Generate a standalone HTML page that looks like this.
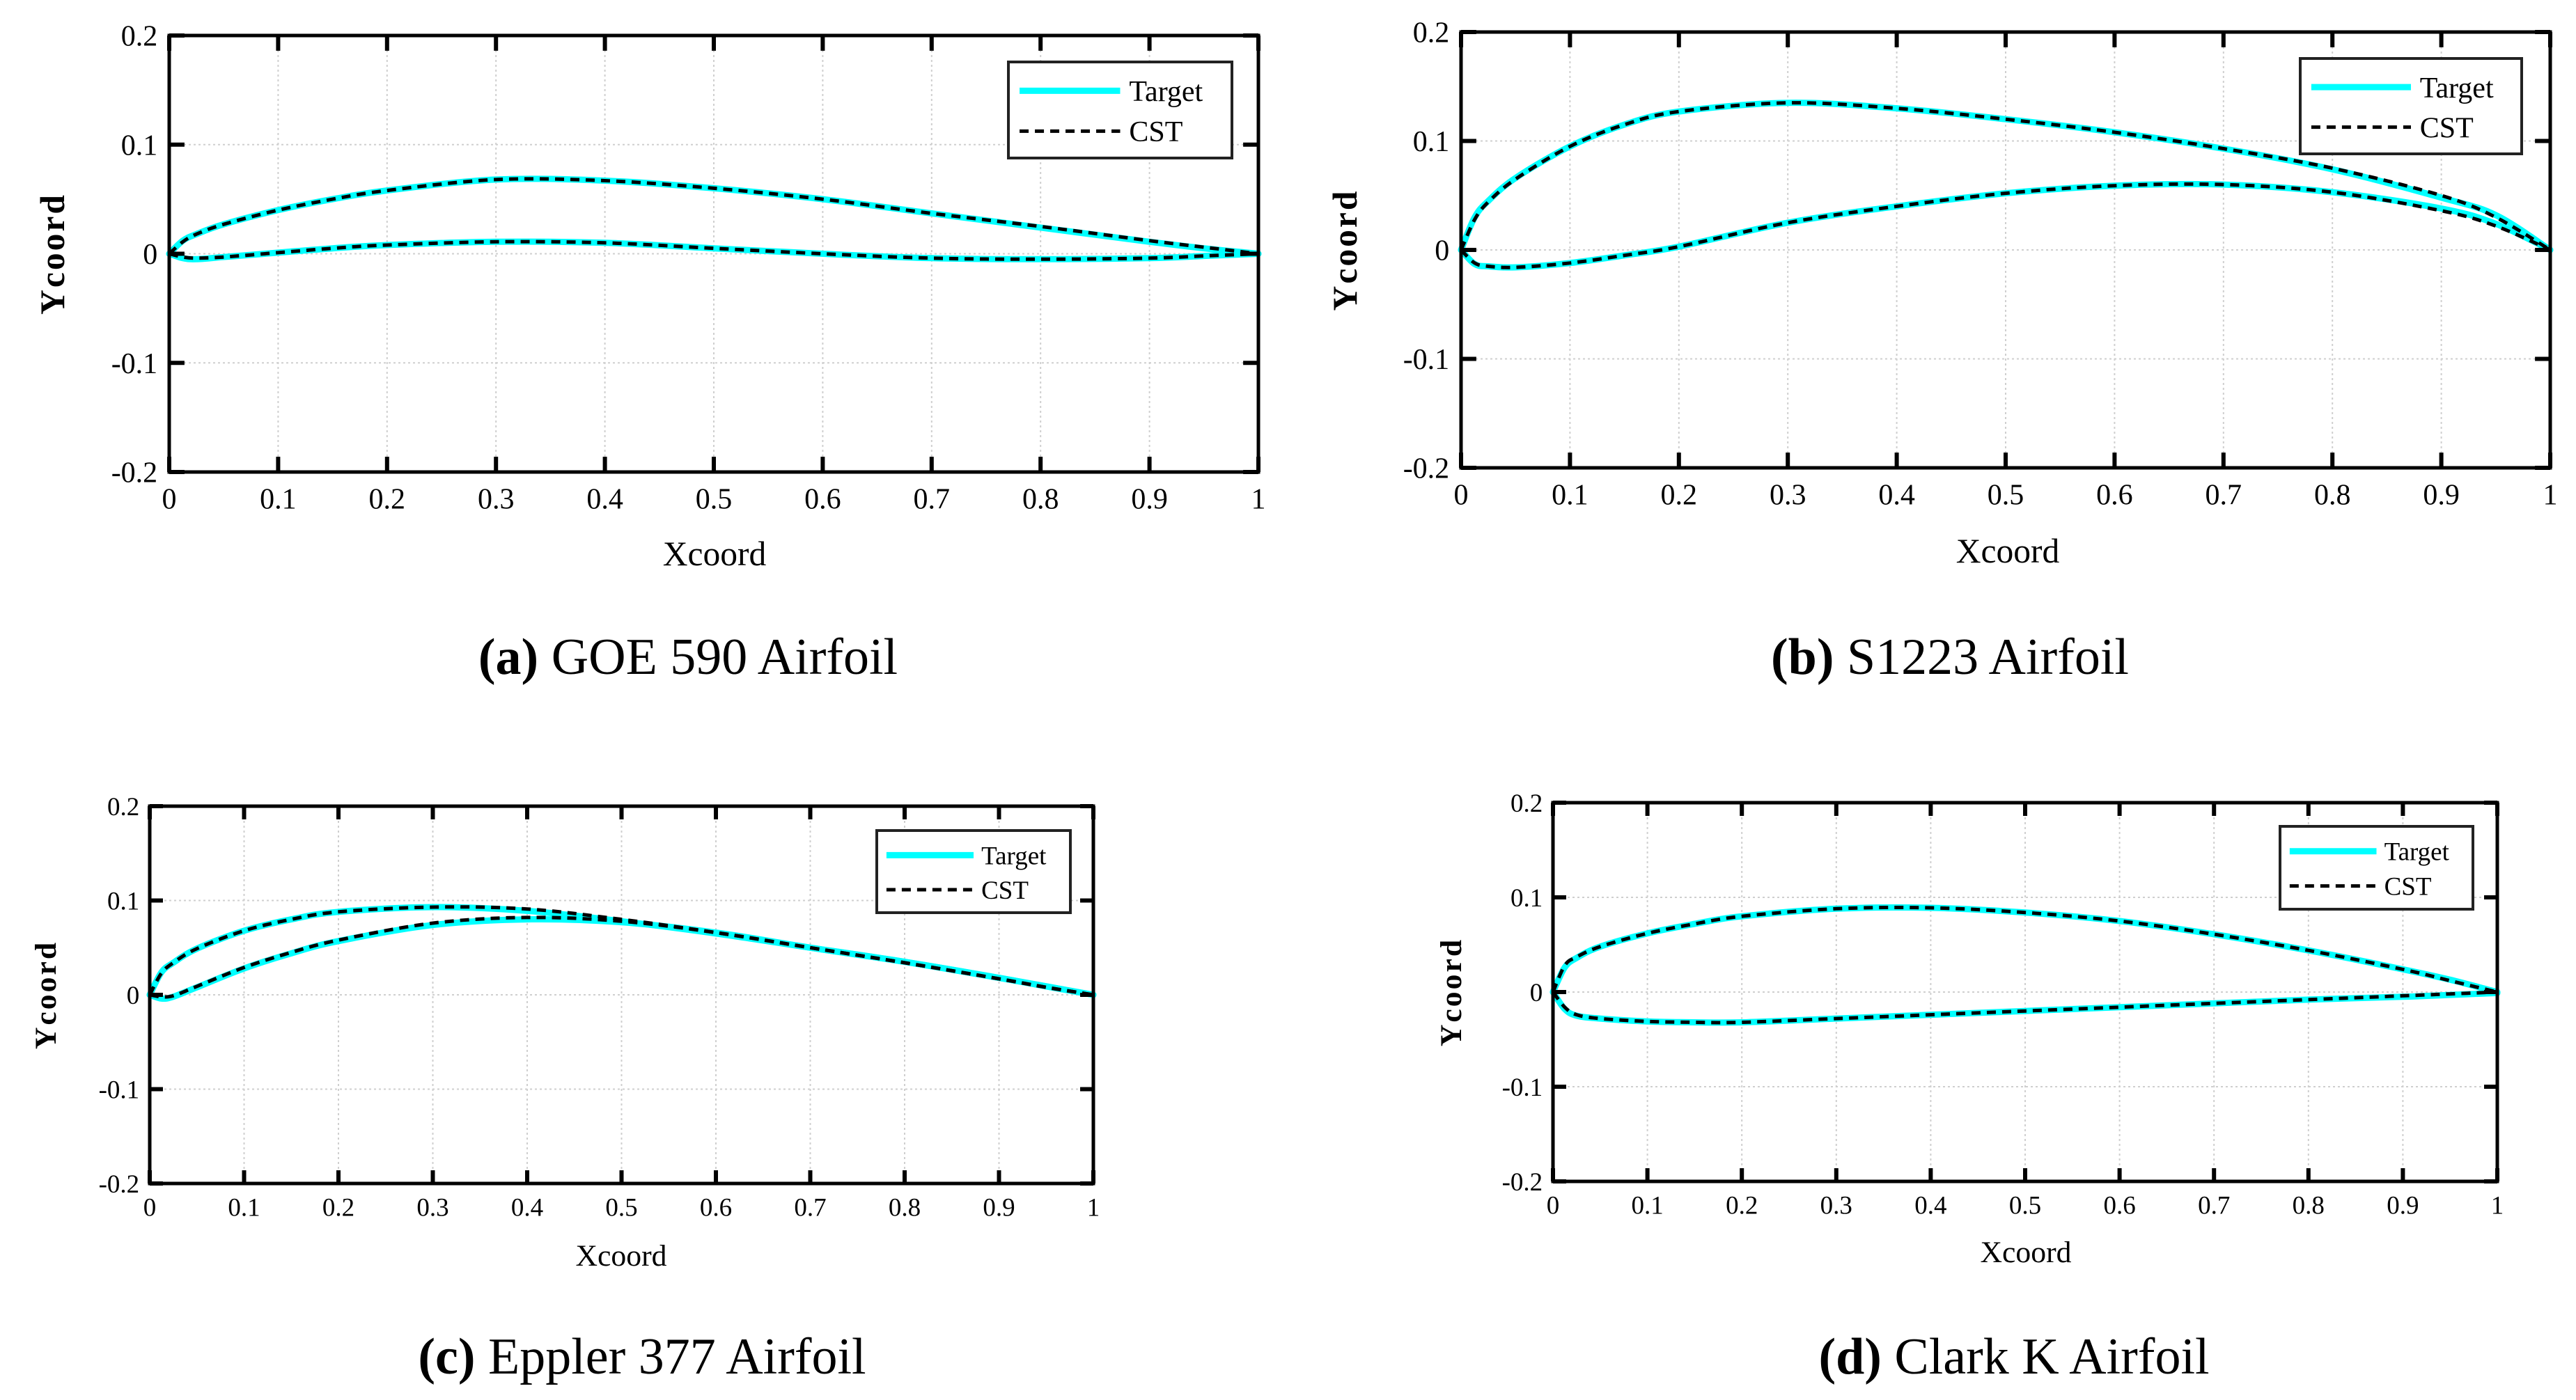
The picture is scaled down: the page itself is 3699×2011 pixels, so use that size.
<!DOCTYPE html>
<html><head><meta charset="utf-8"><style>
html,body{margin:0;padding:0;background:#fff;}
svg{display:block;}
text{font-family:"Liberation Serif",serif;fill:#000;}
</style></head><body>
<svg id="fig" width="3699" height="2011" viewBox="0 0 3699 2011" xmlns="http://www.w3.org/2000/svg"></svg>
<script>
const xs = [0,0.0125,0.025,0.05,0.1,0.15,0.2,0.3,0.4,0.5,0.6,0.7,0.8,0.9,0.95,1];
const xTicks = [0,0.1,0.2,0.3,0.4,0.5,0.6,0.7,0.8,0.9,1];
const xTickLabels = ["0","0.1","0.2","0.3","0.4","0.5","0.6","0.7","0.8","0.9","1"];
const yTicks = [-0.2,-0.1,0,0.1,0.2];
const yTickLabels = ["-0.2","-0.1","0","0.1","0.2"];

const goeUpperTarget = [0,0.012,0.018,0.027,0.040,0.050,0.058,0.068,0.067,0.060,0.050,0.037,0.024,0.011,0.005,0];
const goeLowerTarget = [0,-0.004,-0.005,-0.003,0.001,0.005,0.008,0.011,0.010,0.005,0.000,-0.004,-0.005,-0.004,-0.002,0];
const goeUpperCST = [0,0.011,0.018,0.027,0.040,0.050,0.058,0.068,0.067,0.060,0.050,0.037,0.025,0.012,0.006,0];
const goeLowerCST = [0,-0.003,-0.004,-0.003,0.001,0.005,0.008,0.011,0.010,0.005,0.000,-0.004,-0.005,-0.004,-0.002,0];

const s1223UpperTarget = [0,0.030,0.045,0.066,0.095,0.115,0.127,0.135,0.130,0.120,0.108,0.093,0.074,0.048,0.032,0];
const s1223LowerTarget = [0,-0.013,-0.015,-0.016,-0.012,-0.005,0.003,0.025,0.040,0.052,0.059,0.060,0.053,0.038,0.024,0];
const s1223UpperCST = [0,0.028,0.044,0.065,0.095,0.115,0.127,0.135,0.130,0.120,0.108,0.093,0.075,0.050,0.030,0];
const s1223LowerCST = [0,-0.012,-0.015,-0.016,-0.012,-0.005,0.003,0.025,0.040,0.052,0.059,0.060,0.053,0.036,0.022,0];

const epplerUpperTarget = [0,0.024,0.034,0.049,0.068,0.080,0.088,0.093,0.089,0.078,0.065,0.050,0.035,0.018,0.009,0];
const epplerLowerTarget = [0,-0.004,-0.002,0.008,0.028,0.044,0.057,0.074,0.080,0.077,0.066,0.050,0.035,0.018,0.009,0];
const epplerUpperCST = [0,0.023,0.034,0.049,0.068,0.080,0.088,0.093,0.091,0.080,0.066,0.050,0.034,0.017,0.008,0];
const epplerLowerCST = [0,-0.002,-0.001,0.009,0.029,0.045,0.058,0.076,0.082,0.078,0.066,0.050,0.034,0.017,0.008,0];

const clarkUpperTarget = [0,0.026,0.036,0.048,0.062,0.072,0.080,0.088,0.089,0.084,0.075,0.061,0.044,0.024,0.013,0];
const clarkLowerTarget = [0,-0.018,-0.025,-0.028,-0.031,-0.032,-0.032,-0.028,-0.024,-0.020,-0.016,-0.012,-0.008,-0.005,-0.003,-0.001];
const clarkUpperCST = [0,0.028,0.037,0.048,0.062,0.072,0.080,0.088,0.089,0.084,0.075,0.061,0.044,0.024,0.012,0];
const clarkLowerCST = [0,-0.016,-0.024,-0.028,-0.031,-0.032,-0.032,-0.028,-0.024,-0.020,-0.016,-0.012,-0.008,-0.004,-0.002,0];

const NS = "http://www.w3.org/2000/svg";
const svg = document.getElementById('fig');
function mk(tag, attrs, parent, txt){
  const e = document.createElementNS(NS, tag);
  for (const k in attrs) e.setAttribute(k, attrs[k]);
  if (txt !== undefined) e.textContent = txt;
  (parent || svg).appendChild(e);
  return e;
}

function panel(o){
  const g = mk('g', {});
  
  
  const X = v => o.l + (v - 0) / 1 * (o.r - o.l);
  const Y = v => o.b - (v + 0.2) / 0.4 * (o.b - o.t);
  const tl = 0.014 * (o.r - o.l);
  xTicks.forEach(v => {
    const ln = mk('line', {x1:X(v), x2:X(v), y1:o.t, y2:o.b, stroke:'#cfcfcf', 'stroke-width':2, 'stroke-dasharray':'3 4'}, g);
    
    
  });
  yTicks.forEach(v => {
    const ln = mk('line', {x1:o.l, x2:o.r, y1:Y(v), y2:Y(v), stroke:'#cfcfcf', 'stroke-width':2, 'stroke-dasharray':'3 4'}, g);
    
    
  });
  // smooth path through points (Catmull-Rom)
  function pathD(ys){
    const P = ys.map((y,i)=>[X(xs[i]), Y(y)]);
    let d = 'M' + P[0][0].toFixed(1) + ',' + P[0][1].toFixed(1);
    for (let i = 0; i < P.length - 1; i++){
      const p0 = P[Math.max(0,i-1)], p1 = P[i], p2 = P[i+1], p3 = P[Math.min(P.length-1,i+2)];
      const c1 = [p1[0] + (p2[0]-p0[0])/6, p1[1] + (p2[1]-p0[1])/6];
      const c2 = [p2[0] - (p3[0]-p1[0])/6, p2[1] - (p3[1]-p1[1])/6];
      d += ' C' + c1.map(v=>v.toFixed(1)).join(',') + ' ' + c2.map(v=>v.toFixed(1)).join(',') + ' ' + p2.map(v=>v.toFixed(1)).join(',');
    }
    return d;
  }
  [['upper',o.ut],['lower',o.lt]].forEach(([n,d])=>{
    const p = mk('path', {d:pathD(d), fill:'none', stroke:'#00ffff', 'stroke-width':9, 'stroke-linejoin':'round', 'stroke-linecap':'round'}, g);
    
    
  });
  [['upper',o.uc],['lower',o.lc]].forEach(([n,d])=>{
    const p = mk('path', {d:pathD(d), fill:'none', stroke:'#000', 'stroke-width':5, 'stroke-dasharray':'13 9'}, g);
    
    
  });
  xTicks.forEach((v,i) => {
    mk('line', {x1:X(v), x2:X(v), y1:o.b, y2:o.b - tl, stroke:'#000', 'stroke-width':6}, g);
    mk('line', {x1:X(v), x2:X(v), y1:o.t, y2:o.t + tl, stroke:'#000', 'stroke-width':6}, g);
    const t = mk('text', {x:X(v), y:o.b + o.fs * 1.25, 'font-size':o.fs, 'text-anchor':'middle'}, g, xTickLabels[i]);
    
    
  });
  yTicks.forEach((v,i) => {
    mk('line', {x1:o.l, x2:o.l + tl, y1:Y(v), y2:Y(v), stroke:'#000', 'stroke-width':6}, g);
    mk('line', {x1:o.r, x2:o.r - tl, y1:Y(v), y2:Y(v), stroke:'#000', 'stroke-width':6}, g);
    const t = mk('text', {x:o.l - o.fs * 0.4, y:Y(v) + o.fs * 0.35, 'font-size':o.fs, 'text-anchor':'end'}, g, yTickLabels[i]);
    
    
  });
  const fr = mk('rect', {x:o.l, y:o.t, width:o.r-o.l, height:o.b-o.t, fill:'none', stroke:'#000', 'stroke-width':5}, g);
  
  
  const xl = mk('text', {x:o.xlx, y:o.xly, 'font-size':o.fs*1.18, 'text-anchor':'middle'}, g, 'Xcoord');
  
  
  const ym = (o.t + o.b) / 2;
  const yl = mk('text', {x:o.ylx, y:ym, 'font-size':o.fs*1.18, 'font-weight':'bold', 'text-anchor':'middle', 'letter-spacing':3, transform:'rotate(-90 '+o.ylx+' '+ym+')'}, g, 'Ycoord');
  
  
  const L = o.leg;
  const lg = mk('g', {}, g);
  
  
  mk('rect', {x:L[0], y:L[1], width:L[2]-L[0], height:L[3]-L[1], fill:'#fff', stroke:'#222', 'stroke-width':4}, lg);
  const lh = L[3]-L[1], lw = L[2]-L[0];
  const y1 = L[1] + lh*0.3, y2 = L[1] + lh*0.72;
  mk('line', {x1:L[0]+lw*0.05, x2:L[0]+lw*0.5, y1:y1, y2:y1, stroke:'#00ffff', 'stroke-width':9}, lg);
  mk('line', {x1:L[0]+lw*0.05, x2:L[0]+lw*0.5, y1:y2, y2:y2, stroke:'#000', 'stroke-width':5, 'stroke-dasharray':'13 9'}, lg);
  const e1 = mk('text', {x:L[0]+lw*0.54, y:y1 + o.fs*0.35, 'font-size':o.fs}, lg, 'Target');
  
  
  const e2 = mk('text', {x:L[0]+lw*0.54, y:y2 + o.fs*0.35, 'font-size':o.fs}, lg, 'CST');
  
  
  const c = mk('text', {x:o.cx, y:o.cy, 'font-size':74, 'text-anchor':'middle'}, g);
  
  
  mk('tspan', {'font-weight':'bold'}, c, o.tag);
  mk('tspan', {}, c, ' ' + o.title);
}

panel({name:'goe-590', l:243, r:1807, t:51, b:678, fs:42, ut:goeUpperTarget, lt:goeLowerTarget, uc:goeUpperCST, lc:goeLowerCST,
  leg:[1448,89,1769,227], xlx:1026, xly:812, ylx:92, cx:988, cy:968, tag:'(a)', title:'GOE 590 Airfoil'});
panel({name:'s1223', l:2098, r:3662, t:46, b:672, fs:42, ut:s1223UpperTarget, lt:s1223LowerTarget, uc:s1223UpperCST, lc:s1223LowerCST,
  leg:[3303,84,3621,221], xlx:2883, xly:808, ylx:1948, cx:2800, cy:968, tag:'(b)', title:'S1223 Airfoil'});
panel({name:'eppler-377', l:215, r:1570, t:1158, b:1700, fs:37, ut:epplerUpperTarget, lt:epplerLowerTarget, uc:epplerUpperCST, lc:epplerLowerCST,
  leg:[1259,1193,1537,1311], xlx:892, xly:1818, ylx:80, cx:922, cy:1973, tag:'(c)', title:'Eppler 377 Airfoil'});
panel({name:'clark-k', l:2230, r:3586, t:1153, b:1697, fs:37, ut:clarkUpperTarget, lt:clarkLowerTarget, uc:clarkUpperCST, lc:clarkLowerCST,
  leg:[3274,1187,3551,1306], xlx:2909, xly:1813, ylx:2098, cx:2892, cy:1973, tag:'(d)', title:'Clark K Airfoil'});
</script>
</body></html>
